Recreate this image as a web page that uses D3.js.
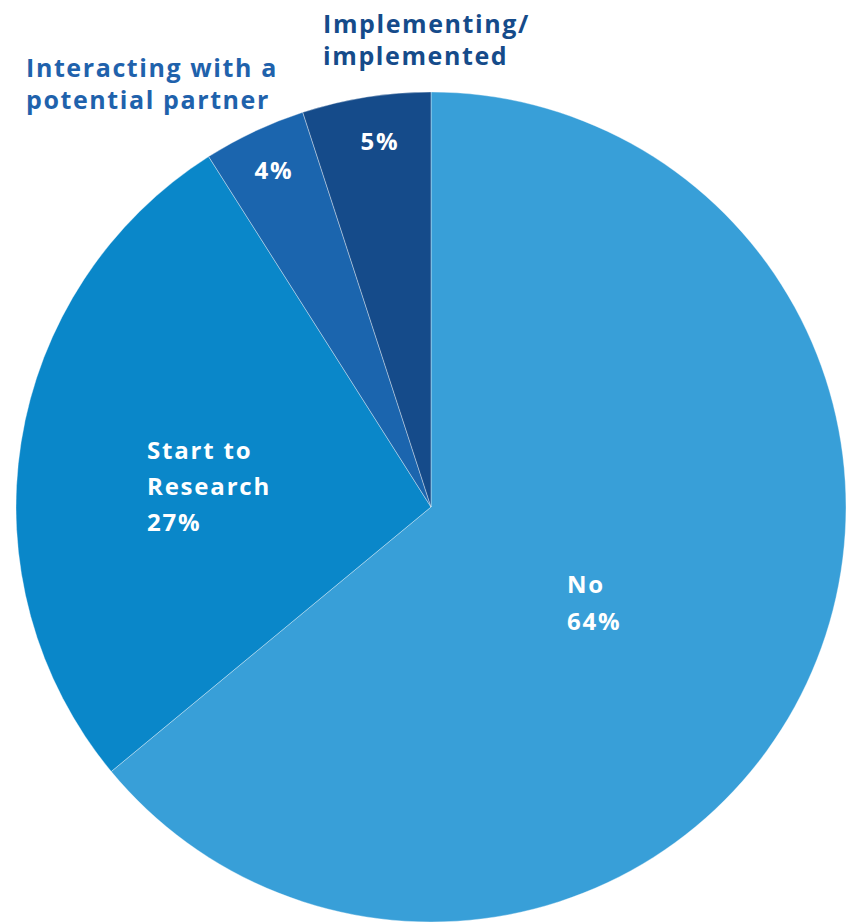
<!DOCTYPE html>
<html>
<head>
<meta charset="utf-8">
<script src="https://cdn.jsdelivr.net/npm/d3@7"></script>
<style>
  html, body { margin: 0; padding: 0; background: #ffffff; }
  svg { display: block; }
  text { font-family: "Open Sans", "DejaVu Sans", sans-serif; font-weight: 700; }
</style>
</head>
<body>
<svg id="chart" width="851" height="923"></svg>
<script>
// Share of respondents by stage (percent)
const categories = ["No", "Start to Research", "Interacting with a potential partner", "Implementing/implemented"];
const values = [64, 27, 4, 5];
const colors = ["#389fd8", "#0a87c9", "#1b65ae", "#154b8a"];

const width = 851, height = 923;
const cx = 431, cy = 507, radius = 415;

const svg = d3.select("#chart");
const g = svg.append("g").attr("transform", `translate(${cx},${cy})`);

const pie = d3.pie().sort(null).value(d => d.value);
const arc = d3.arc().innerRadius(0).outerRadius(radius);

const data = categories.map((c, i) => ({ name: c, value: values[i], color: colors[i] }));
const arcs = pie(data);

g.selectAll("path.slice")
  .data(arcs)
  .join("path")
  .attr("class", "slice")
  .attr("d", arc)
  .attr("fill", d => d.data.color)
  .attr("stroke", "rgba(255,255,255,0.45)")
  .attr("stroke-width", 0.8);

const inFont = 24, inSpacing = 1.8;

// Labels inside the two large slices
const inside = [
  { lines: ["No", values[0] + "%"], x: 567, y: 593, lh: 37 },
  { lines: ["Start to", "Research", values[1] + "%"], x: 147, y: 459, lh: 36 }
];
inside.forEach(l => {
  const t = svg.append("text")
    .attr("fill", "#ffffff")
    .attr("font-size", inFont)
    .attr("letter-spacing", inSpacing);
  l.lines.forEach((s, k) => {
    t.append("tspan").attr("x", l.x).attr("y", l.y + k * l.lh).text(s);
  });
});

// Percent labels in the two thin slices
svg.append("text").attr("x", 274).attr("y", 179).attr("text-anchor", "middle")
  .attr("fill", "#ffffff").attr("font-size", inFont).attr("letter-spacing", inSpacing)
  .text(values[2] + "%");
svg.append("text").attr("x", 380).attr("y", 150).attr("text-anchor", "middle")
  .attr("fill", "#ffffff").attr("font-size", inFont).attr("letter-spacing", inSpacing)
  .text(values[3] + "%");

// Category names for the thin slices, set above the pie
const outside = [
  { lines: ["Interacting with a", "potential partner"], x: 26, y: 77, color: "#1f62ac" },
  { lines: ["Implementing/", "implemented"], x: 323, y: 33, color: "#154b8a" }
];
outside.forEach(l => {
  const t = svg.append("text").attr("fill", l.color)
    .attr("font-size", 25).attr("letter-spacing", 1.6);
  l.lines.forEach((s, k) => {
    t.append("tspan").attr("x", l.x).attr("y", l.y + k * 32).text(s);
  });
});
</script>
</body>
</html>
